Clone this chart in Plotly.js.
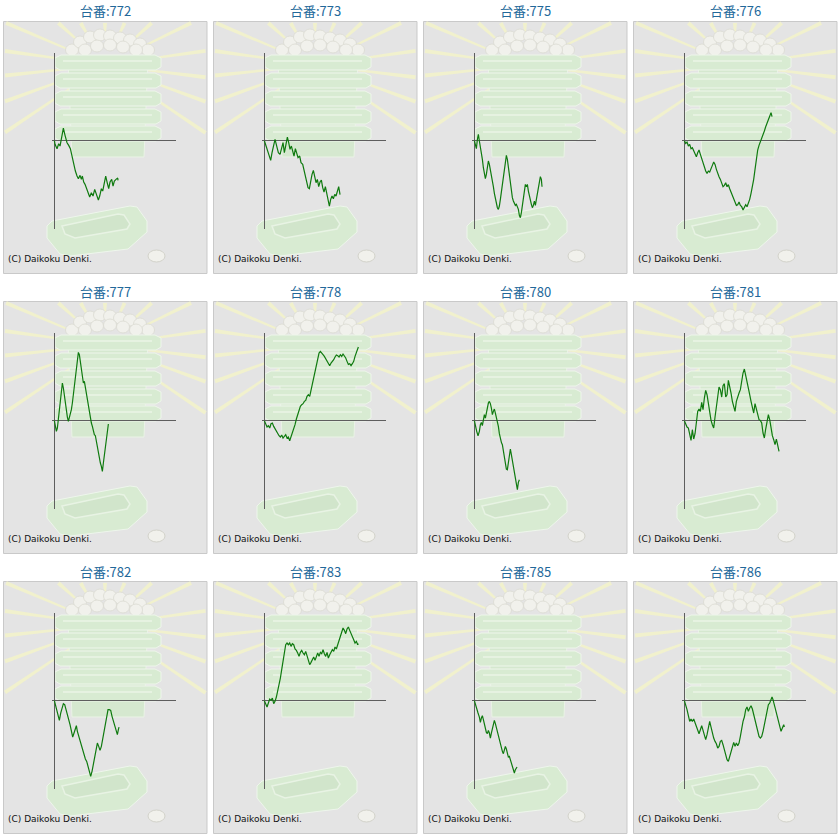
<!DOCTYPE html>
<html>
<head>
<meta charset="utf-8">
<script src="https://cdn.plot.ly/plotly-3.0.1.min.js"></script>
<style>
  html, body { margin: 0; padding: 0; background: #fff; }
  #grid { width: 840px; height: 840px; }
</style>
</head>
<body>
<div id="grid"></div>
<script>
// slump graphs for 12 machines, [games, balls] pairs (graph units)

var machines = ['772', '773', '775', '776', '777', '778', '780', '781', '782', '783', '785', '786'];

var s772 = [[0,0],[2,-11],[8,-24],[13,-9],[17,-16],[22,14],[27,38],[32,16],[38,-6],[43,-14],[48,-24],[53,-46],[58,-71],[63,-91],[68,-106],[72,-114],[77,-104],[81,-116],[84,-106],[88,-124],[92,-131],[96,-141],[101,-154],[106,-169],[111,-156],[116,-166],[121,-146],[126,-158],[132,-178],[136,-166],[141,-144],[145,-151],[150,-126],[154,-106],[159,-128],[163,-144],[167,-124],[172,-116],[176,-136],[180,-121],[185,-116],[190,-112],[191,-119]];
var s773 = [[0,0],[5,-16],[10,-36],[15,-46],[19,-59],[23,-36],[27,-16],[32,4],[37,-16],[42,-36],[47,-41],[52,-24],[56,-6],[60,-36],[64,-16],[69,11],[73,-6],[77,-26],[81,-16],[85,-36],[89,-46],[93,-24],[97,-38],[101,-51],[106,-46],[110,-66],[115,-71],[119,-91],[123,-106],[127,-126],[131,-141],[135,-144],[139,-121],[143,-101],[147,-89],[151,-106],[155,-126],[159,-116],[163,-138],[167,-124],[171,-118],[175,-141],[179,-154],[183,-138],[187,-158],[191,-176],[195,-196],[199,-176],[203,-166],[207,-174],[211,-161],[215,-166],[219,-154],[223,-138],[227,-162]];
var s775 = [[0,0],[3,-16],[6,-24],[9,4],[12,19],[15,-1],[18,-16],[21,-36],[24,-56],[27,-81],[30,-101],[33,-114],[36,-101],[39,-81],[42,-61],[45,-71],[48,-86],[51,-104],[54,-121],[57,-138],[60,-158],[63,-176],[66,-191],[69,-201],[72,-206],[75,-196],[78,-176],[81,-151],[84,-126],[87,-108],[90,-86],[93,-66],[96,-44],[99,-56],[102,-81],[105,-106],[108,-131],[111,-151],[114,-171],[117,-181],[120,-186],[123,-194],[126,-191],[129,-198],[132,-206],[135,-224],[138,-231],[141,-216],[144,-196],[147,-176],[150,-156],[153,-131],[156,-138],[159,-131],[162,-151],[165,-168],[168,-181],[171,-191],[174,-201],[177,-194],[180,-181],[183,-194],[186,-176],[189,-156],[192,-136],[195,-121],[198,-108],[201,-116],[203,-138]];
var s776 = [[0,0],[4,-8],[8,-4],[12,-16],[16,-11],[20,-24],[24,-21],[28,-31],[32,-38],[36,-48],[40,-36],[44,-28],[48,-41],[52,-54],[56,-68],[60,-81],[64,-91],[68,-98],[72,-91],[76,-94],[80,-86],[84,-74],[88,-64],[92,-71],[96,-86],[100,-101],[104,-108],[108,-116],[112,-128],[116,-138],[120,-134],[124,-126],[128,-138],[132,-132],[136,-144],[140,-154],[144,-166],[148,-176],[152,-188],[156,-194],[160,-192],[164,-184],[168,-194],[172,-198],[176,-208],[180,-198],[184,-192],[188,-198],[192,-188],[196,-176],[200,-158],[204,-138],[208,-116],[212,-86],[216,-56],[220,-28],[224,-14],[228,-4],[232,6],[236,19],[240,29],[244,42],[248,52],[252,64],[256,74],[260,84],[263,72]];
var s777 = [[0,0],[3,-17],[6,-32],[9,-22],[12,3],[15,33],[18,68],[21,93],[24,113],[27,98],[30,73],[33,48],[36,28],[39,11],[42,-2],[45,8],[48,18],[51,33],[54,53],[57,78],[60,103],[63,133],[66,158],[69,183],[72,205],[75,198],[78,178],[81,158],[84,138],[87,113],[90,118],[93,98],[96,83],[99,63],[102,48],[105,28],[108,8],[111,-7],[114,-17],[117,-32],[120,-42],[123,-45],[126,-62],[129,-82],[132,-97],[135,-112],[138,-127],[141,-137],[144,-152],[147,-127],[150,-102],[153,-77],[156,-52],[159,-27],[162,-10]];
var s778 = [[0,0],[4,-12],[8,-19],[12,-15],[16,-22],[20,-9],[24,-7],[28,-17],[32,-25],[36,-29],[40,-37],[44,-45],[48,-49],[52,-43],[56,-52],[60,-47],[64,-42],[68,-52],[72,-49],[76,-60],[80,-49],[84,-37],[88,-27],[92,-12],[96,5],[100,18],[104,33],[108,43],[112,48],[116,51],[120,58],[124,61],[128,73],[132,78],[136,73],[140,93],[144,111],[148,133],[152,153],[156,173],[160,193],[164,203],[168,208],[172,201],[176,198],[180,193],[184,185],[188,178],[192,171],[196,165],[200,173],[204,177],[208,183],[212,191],[216,197],[220,195],[224,191],[228,198],[232,193],[236,200],[240,195],[244,188],[248,178],[252,169],[256,171],[260,165],[264,171],[268,178],[272,193],[276,205],[280,213],[282,221]];
var s780 = [[0,0],[3,-17],[7,-32],[11,-45],[15,-32],[18,-12],[21,-5],[24,-15],[27,3],[30,18],[33,8],[36,23],[39,41],[42,53],[45,58],[48,51],[51,38],[54,18],[57,28],[60,35],[63,23],[66,11],[69,1],[72,-17],[75,-39],[78,-55],[81,-65],[84,-72],[87,-92],[90,-115],[93,-127],[96,-145],[99,-147],[102,-127],[105,-102],[108,-85],[111,-102],[114,-122],[117,-137],[120,-152],[123,-167],[126,-189],[129,-207],[132,-185],[135,-177]];
var s781 = [[0,0],[4,-12],[8,-19],[12,-22],[16,-45],[20,-59],[24,-27],[28,-55],[32,-39],[36,-9],[40,28],[44,35],[48,28],[52,55],[56,33],[60,68],[64,91],[68,78],[72,48],[76,23],[80,1],[84,-12],[88,-22],[92,11],[96,43],[100,78],[104,101],[108,93],[112,71],[116,105],[120,111],[124,71],[128,78],[132,121],[136,105],[140,83],[144,58],[148,45],[152,28],[156,58],[160,75],[164,83],[168,93],[172,125],[176,143],[180,155],[184,133],[188,118],[192,98],[196,78],[200,58],[204,35],[208,23],[212,51],[216,33],[220,15],[224,3],[228,1],[232,-7],[236,-37],[240,-52],[244,-25],[248,3],[252,18],[256,3],[260,-25],[264,-45],[268,-57],[272,-72],[276,-55],[280,-77],[284,-92]];
var s782 = [[0,0],[3,-12],[7,-27],[11,-42],[15,-59],[19,-37],[23,-22],[27,-9],[31,-12],[35,-25],[39,-42],[43,-57],[47,-72],[51,-89],[55,-109],[59,-97],[63,-82],[66,-75],[69,-92],[73,-107],[77,-122],[81,-135],[85,-147],[89,-162],[93,-175],[97,-182],[101,-195],[105,-212],[109,-227],[113,-212],[117,-189],[121,-175],[125,-152],[129,-127],[133,-137],[137,-149],[141,-137],[145,-117],[149,-97],[153,-72],[157,-52],[161,-27],[165,-27],[169,-29],[173,-47],[177,-62],[181,-72],[185,-87],[189,-102],[192,-87],[194,-79]];
var s783 = [[0,0],[4,-12],[8,-19],[12,-7],[16,5],[20,1],[24,8],[28,-9],[32,-2],[36,11],[40,28],[44,45],[48,68],[52,93],[56,123],[60,153],[64,168],[68,173],[72,168],[76,173],[80,163],[84,171],[88,168],[92,155],[96,151],[100,143],[104,133],[108,145],[112,151],[116,143],[120,138],[124,148],[128,135],[132,121],[136,108],[140,115],[144,125],[148,131],[152,121],[156,133],[160,143],[164,133],[168,145],[172,141],[176,153],[180,141],[184,133],[188,145],[192,128],[196,138],[200,145],[204,153],[208,148],[212,161],[216,155],[220,168],[224,181],[228,195],[232,208],[236,218],[240,211],[244,201],[248,215],[252,221],[256,211],[260,203],[264,195],[268,183],[272,173],[276,178],[280,168],[282,171]];
var s785 = [[0,0],[3,-12],[7,-22],[11,-37],[15,-49],[18,-65],[21,-52],[24,-45],[27,-57],[30,-72],[33,-82],[36,-95],[39,-99],[42,-89],[45,-97],[48,-112],[51,-97],[54,-82],[57,-72],[60,-59],[63,-69],[66,-82],[69,-95],[72,-109],[75,-122],[78,-132],[81,-142],[84,-152],[87,-159],[90,-147],[93,-137],[96,-145],[99,-157],[102,-169],[105,-167],[108,-177],[111,-185],[114,-197],[117,-207],[120,-217],[123,-207],[126,-202],[128,-199]];
var s786 = [[0,0],[4,-12],[8,-27],[12,-45],[16,-62],[20,-55],[24,-62],[28,-55],[32,-67],[36,-77],[40,-92],[44,-99],[48,-87],[52,-75],[56,-89],[60,-107],[64,-117],[68,-102],[72,-75],[76,-62],[80,-79],[84,-97],[88,-112],[92,-122],[96,-129],[100,-142],[104,-137],[108,-122],[112,-119],[116,-132],[120,-149],[124,-167],[128,-177],[132,-182],[136,-167],[140,-147],[144,-132],[148,-125],[152,-137],[156,-127],[160,-135],[164,-127],[168,-107],[172,-82],[176,-62],[180,-49],[184,-27],[188,-19],[192,-32],[196,-22],[200,-15],[204,-25],[208,-42],[212,-62],[216,-77],[220,-95],[224,-107],[228,-112],[232,-107],[236,-92],[240,-72],[244,-49],[248,-27],[252,-12],[256,-7],[260,1],[263,11],[266,3],[270,-12],[274,-27],[278,-45],[282,-57],[286,-72],[290,-92],[294,-82],[298,-72],[300,-79]];

var series = [s772, s773, s775, s776, s777, s778, s780, s781, s782, s783, s785, s786];

var GAME_MIN = -8, GAME_MAX = 364;
var BALL_MAX = 264;

// page geometry (px)
var W = 840;
var PANEL_W = 210, PANEL_H = 280;
var AX_L = 51.7, AX_R = 175.7, AX_T = 52.7, AX_B = 228.7;

// background picture: rays, ball box tower, tray, coin
var RAY_ANGLES = [214, 200, 186, 172, 157, 138, 120, 90, 65, 42, 26, 8, -7, -20, -34];
var BALLS = [[72,50],[80,42],[90,37],[100,35],[110,36],[120,38],[130,40],[140,44],[148,50],[85,50],[97,46],[110,45],[123,47],[136,50]];
var TRAY_TOPS = [55, 73, 91, 109, 126];

function px(x) { return x / W; }
function py(y) { return 1 - y / W; }

function path(ox, oy, pts, close) {
    var s = 'M ' + pts.map(function (p) {
        return px(ox + p[0]).toFixed(5) + ',' + py(oy + p[1]).toFixed(5);
    }).join(' L ');
    return close === false ? s : s + ' Z';
}

function rays(ox, oy) {
    var cx = 105, cy = 65, r0 = 30;
    var bx0 = 5, bx1 = 205.5, by0 = 23, by1 = 272;
    var parts = [];
    RAY_ANGLES.forEach(function (a) {
        var t = a * Math.PI / 180;
        var dx = Math.cos(t), dy = -Math.sin(t);
        var tm = 1e9;
        if (dx > 1e-6) tm = Math.min(tm, (bx1 - cx) / dx);
        if (dx < -1e-6) tm = Math.min(tm, (bx0 - cx) / dx);
        if (dy > 1e-6) tm = Math.min(tm, (by1 - cy) / dy);
        if (dy < -1e-6) tm = Math.min(tm, (by0 - cy) / dy);
        if (tm <= r0) return;
        var nx = -dy, ny = dx;
        var w0 = 0.8, w1 = 2.0;
        var p0 = [cx + dx * r0, cy + dy * r0], p1 = [cx + dx * tm, cy + dy * tm];
        parts.push(path(ox, oy, [
            [p0[0] + nx * w0, p0[1] + ny * w0],
            [p1[0] + nx * w1, p1[1] + ny * w1],
            [p1[0] - nx * w1, p1[1] - ny * w1],
            [p0[0] - nx * w0, p0[1] - ny * w0]
        ]));
    });
    return parts.join(' ');
}

var traces = [];
var layout = {
    width: 840,
    height: 840,
    margin: {l: 0, r: 0, t: 0, b: 0},
    paper_bgcolor: '#ffffff',
    plot_bgcolor: 'rgba(0,0,0,0)',
    showlegend: false,
    shapes: [],
    annotations: []
};

machines.forEach(function (id, i) {
    var c = i % 4, r = Math.floor(i / 4);
    var ox = c * PANEL_W, oy = r * PANEL_H;
    var n = i === 0 ? '' : String(i + 1);
    var sh = layout.shapes;

    // frame
    sh.push({type: 'rect', xref: 'paper', yref: 'paper', layer: 'below',
        x0: px(ox + 3.5), x1: px(ox + 207), y0: py(oy + 273.5), y1: py(oy + 21.5),
        fillcolor: '#e4e4e4', line: {color: '#c9c9c9', width: 1}});

    // rays
    sh.push({type: 'path', xref: 'paper', yref: 'paper', layer: 'below',
        path: rays(ox, oy), fillcolor: '#f1f1cd', line: {width: 0}});

    // balls on top
    BALLS.forEach(function (b) {
        sh.push({type: 'circle', xref: 'paper', yref: 'paper', layer: 'below',
            x0: px(ox + b[0] - 6.5), x1: px(ox + b[0] + 6.5),
            y0: py(oy + b[1] + 6), y1: py(oy + b[1] - 6),
            fillcolor: '#f1f1ec', line: {color: '#dadad2', width: 0.8}});
    });

    // tower body
    sh.push({type: 'path', xref: 'paper', yref: 'paper', layer: 'below',
        path: path(ox, oy, [[68, 58], [148, 58], [144, 157], [72, 157]]),
        fillcolor: '#d5e8cf', line: {color: '#eaf3e6', width: 1}});

    // stacked trays
    var trays = TRAY_TOPS.map(function (t) {
        return path(ox, oy, [[55, t + 3], [61, t], [155, t], [161, t + 3], [161, t + 12], [156, t + 15], [60, t + 15], [55, t + 12]]);
    }).join(' ');
    sh.push({type: 'path', xref: 'paper', yref: 'paper', layer: 'below',
        path: trays, fillcolor: '#d8eBd2', line: {color: '#eef6eb', width: 1}});
    var shine = TRAY_TOPS.map(function (t) {
        return path(ox, oy, [[63, t + 6], [152, t + 6]], false);
    }).join(' ');
    sh.push({type: 'path', xref: 'paper', yref: 'paper', layer: 'below',
        path: shine, line: {color: '#e6f2e1', width: 2}});

    // bottom tray
    sh.push({type: 'path', xref: 'paper', yref: 'paper', layer: 'below',
        path: path(ox, oy, [[47, 226], [52, 221], [130, 206], [137, 207], [147, 221], [147, 232], [128, 249], [70, 256], [60, 254], [47, 238]]),
        fillcolor: '#d8ebd2', line: {color: '#eef6ec', width: 1}});
    sh.push({type: 'path', xref: 'paper', yref: 'paper', layer: 'below',
        path: path(ox, oy, [[62, 226], [118, 214], [124, 215], [130, 224], [127, 229], [75, 238], [65, 234]]),
        fillcolor: '#d1e5cb', line: {color: '#e8f3e4', width: 1.5}});

    // coin
    sh.push({type: 'circle', xref: 'paper', yref: 'paper', layer: 'below',
        x0: px(ox + 148), x1: px(ox + 165), y0: py(oy + 262), y1: py(oy + 250),
        fillcolor: '#f1f1ec', line: {color: '#d2d2ca', width: 1}});

    layout['xaxis' + n] = {
        domain: [px(ox + AX_L), px(ox + AX_R)],
        range: [GAME_MIN, GAME_MAX],
        anchor: 'y' + n,
        showgrid: false, showticklabels: false, ticks: '', showline: false,
        zeroline: true, zerolinecolor: '#5e5e5e', zerolinewidth: 1,
        fixedrange: true
    };
    layout['yaxis' + n] = {
        domain: [py(oy + AX_B), py(oy + AX_T)],
        range: [-BALL_MAX, BALL_MAX],
        anchor: 'x' + n,
        showgrid: false, showticklabels: false, ticks: '', showline: false,
        zeroline: true, zerolinecolor: '#5e5e5e', zerolinewidth: 1,
        fixedrange: true
    };

    traces.push({
        x: series[i].map(function (p) { return p[0]; }),
        y: series[i].map(function (p) { return p[1]; }),
        type: 'scatter',
        mode: 'lines',
        xaxis: 'x' + n,
        yaxis: 'y' + n,
        line: {color: '#0f7a0f', width: 1.2},
        hoverinfo: 'skip'
    });

    layout.annotations.push({
        text: '台番:' + id, showarrow: false,
        xref: 'paper', yref: 'paper', x: px(ox + 105), y: py(oy + 11),
        xanchor: 'center', yanchor: 'middle',
        font: {family: '"Noto Sans CJK JP", "Noto Sans", sans-serif', size: 13, color: '#22689a'}
    });
    layout.annotations.push({
        text: '(C) Daikoku Denki.', showarrow: false,
        xref: 'paper', yref: 'paper', x: px(ox + 6), y: py(oy + 259),
        xanchor: 'left', yanchor: 'middle',
        font: {family: '"DejaVu Sans", Verdana, sans-serif', size: 9, color: '#111111'}
    });
});

Plotly.newPlot('grid', traces, layout, {displayModeBar: false, staticPlot: true});
</script>
</body>
</html>
